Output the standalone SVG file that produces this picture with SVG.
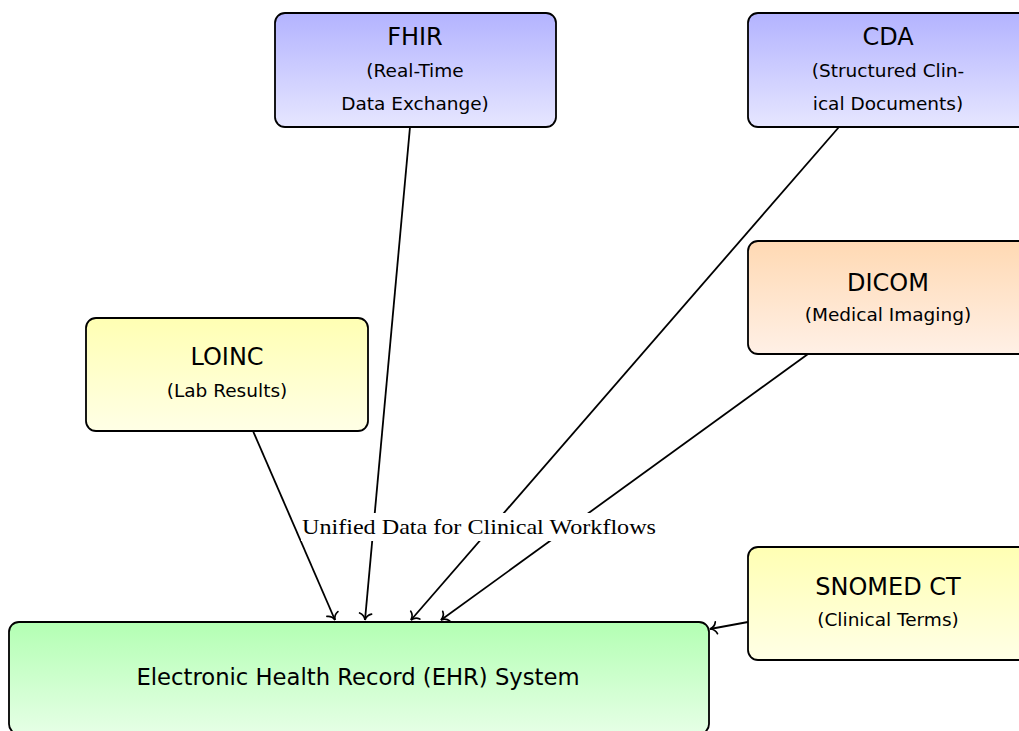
<svg xmlns="http://www.w3.org/2000/svg" width="1019" height="731" viewBox="0 0 1019 731">
  <style>
    .box { stroke: #000; stroke-width: 1.8; }
    .title { font-family: "DejaVu Sans", "Liberation Sans", sans-serif; font-size: 24px; fill: #000; text-anchor: middle; }
    .sub { font-family: "DejaVu Sans", "Liberation Sans", sans-serif; font-size: 18.5px; fill: #000; text-anchor: middle; }
    .main { font-family: "DejaVu Sans", "Liberation Sans", sans-serif; font-size: 22.7px; fill: #000; text-anchor: middle; }
    .edge { fill: none; stroke: #000; stroke-width: 1.8; marker-end: url(#tip); }
    .label { font-family: "Liberation Serif", "DejaVu Serif", serif; font-size: 21.5px; fill: #000; text-anchor: middle; }
  </style>
  <defs>
    <linearGradient id="gBlue" x1="0" y1="0" x2="0" y2="1">
      <stop offset="0" stop-color="#b3b3ff"/>
      <stop offset="1" stop-color="#e6e6ff"/>
    </linearGradient>
    <linearGradient id="gOrange" x1="0" y1="0" x2="0" y2="1">
      <stop offset="0" stop-color="#ffd9b3"/>
      <stop offset="1" stop-color="#fff0e6"/>
    </linearGradient>
    <linearGradient id="gYellow" x1="0" y1="0" x2="0" y2="1">
      <stop offset="0" stop-color="#ffffb3"/>
      <stop offset="1" stop-color="#ffffe6"/>
    </linearGradient>
    <linearGradient id="gGreen" x1="0" y1="0" x2="0" y2="1">
      <stop offset="0" stop-color="#b3ffb3"/>
      <stop offset="1" stop-color="#e6ffe6"/>
    </linearGradient>
    <!-- open curved arrow tip -->
    <marker id="tip" viewBox="-8 -7 10 14" refX="0" refY="0" markerWidth="10" markerHeight="14" markerUnits="userSpaceOnUse" orient="auto" overflow="visible">
      <path d="M-6.5,-6 C-5.5,-2.5 -2.2,-0.5 0,0 C-2.2,0.5 -5.5,2.5 -6.5,6" fill="none" stroke="#000" stroke-width="1.7" stroke-linecap="round"/>
    </marker>
  </defs>

  <!-- connectors -->
  <g id="connectors">
    <line class="edge" x1="253" y1="431" x2="335" y2="620"/>
    <line class="edge" x1="410" y1="127" x2="365" y2="620"/>
    <line class="edge" x1="839" y1="127" x2="411" y2="620"/>
    <line class="edge" x1="808" y1="354" x2="441" y2="620"/>
    <line class="edge" x1="748" y1="622" x2="710" y2="629"/>
    <g id="edge-label">
      <rect x="301" y="513" width="359" height="28" fill="#fff"/>
      <text class="label" x="479" y="534" textLength="354" lengthAdjust="spacingAndGlyphs">Unified Data for Clinical Workflows</text>
    </g>
  </g>

  <g id="fhir">
    <rect class="box" x="275" y="13" width="281" height="114" rx="10" fill="url(#gBlue)"/>
    <text class="title" x="415" y="44.5">FHIR</text>
    <text class="sub" x="415" y="77">(Real-Time</text>
    <text class="sub" x="415" y="110">Data Exchange)</text>
  </g>

  <g id="cda">
    <rect class="box" x="748" y="13" width="281" height="114" rx="10" fill="url(#gBlue)"/>
    <text class="title" x="888" y="44.5">CDA</text>
    <text class="sub" x="888" y="77">(Structured Clin-</text>
    <text class="sub" x="888" y="110">ical Documents)</text>
  </g>

  <g id="dicom">
    <rect class="box" x="748" y="241" width="281" height="113" rx="10" fill="url(#gOrange)"/>
    <text class="title" x="888" y="291">DICOM</text>
    <text class="sub" x="888" y="321">(Medical Imaging)</text>
  </g>

  <g id="loinc">
    <rect class="box" x="86" y="318" width="282" height="113" rx="10" fill="url(#gYellow)"/>
    <text class="title" x="227" y="365">LOINC</text>
    <text class="sub" x="227" y="397">(Lab Results)</text>
  </g>

  <g id="snomed">
    <rect class="box" x="748" y="547" width="281" height="113" rx="10" fill="url(#gYellow)"/>
    <text class="title" x="888" y="595">SNOMED CT</text>
    <text class="sub" x="888" y="626">(Clinical Terms)</text>
  </g>

  <g id="ehr">
    <rect class="box" x="9" y="622" width="700" height="112" rx="10" fill="url(#gGreen)"/>
    <text class="main" x="358" y="685">Electronic Health Record (EHR) System</text>
  </g>
</svg>
